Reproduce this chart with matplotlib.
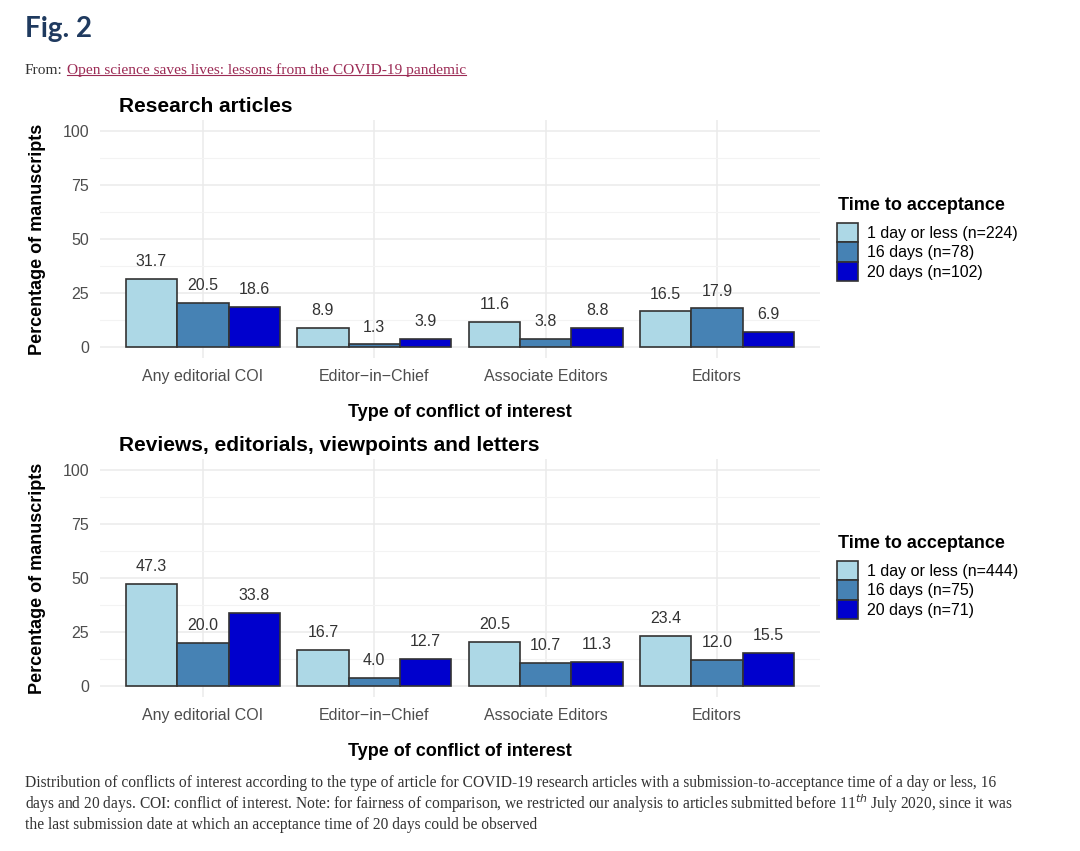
import numpy as np
import matplotlib.pyplot as plt
from matplotlib.patches import Patch

# ----------------------------------------
# DATA
# ----------------------------------------
categories = ["Any editorial COI", "Editor\u2212in\u2212Chief", "Associate Editors", "Editors"]

research_1day = [31.7, 8.9, 11.6, 16.5]
research_16days = [20.5, 1.3, 3.8, 17.9]
research_20days = [18.6, 3.9, 8.8, 6.9]
research_labels = ["1 day or less (n=224)", "16 days (n=78)", "20 days (n=102)"]

reviews_1day = [47.3, 16.7, 20.5, 23.4]
reviews_16days = [20.0, 4.0, 10.7, 12.0]
reviews_20days = [33.8, 12.7, 11.3, 15.5]
reviews_labels = ["1 day or less (n=444)", "16 days (n=75)", "20 days (n=71)"]

y_ticks = [0, 25, 50, 75, 100]

COLORS = ["#add8e6", "#4682b4", "#0000cd"]
EDGE = "#333333"
SANS = "Liberation Sans"
SERIF = "Liberation Serif"

plt.rcParams["font.family"] = SANS

W, H = 1080, 851
fig = plt.figure(figsize=(W / 100, H / 100), dpi=100)


def panel(top_px, title, series, labels, legend_top_px):
    ax = fig.add_axes([100 / W, 1 - (top_px + 238) / H, 720 / W, 238 / H])
    x = np.arange(1, len(categories) + 1)
    w = 0.3
    for i, vals in enumerate(series):
        xs = x + (i - 1) * w
        ax.bar(xs, vals, width=w, color=COLORS[i], edgecolor=EDGE, linewidth=1.2, zorder=3)
        for xi, v in zip(xs, vals):
            ax.annotate(f"{v:.1f}", (xi, v), xytext=(0, 12.5), textcoords="offset points",
                        ha="center", va="center", fontsize=11.5, color="#333333", zorder=4)
    ax.set_xlim(0.4, 4.6)
    ax.set_ylim(-5, 105)
    ax.set_xticks(x)
    ax.set_xticklabels(categories, fontsize=11.5, color="#4d4d4d")
    ax.set_yticks(y_ticks)
    ax.set_yticklabels([str(t) for t in y_ticks], fontsize=11.5, color="#4d4d4d")
    ax.set_yticks([12.5, 37.5, 62.5, 87.5], minor=True)
    ax.grid(True, which="major", color="#ebebeb", linewidth=1.1, zorder=0)
    ax.grid(True, which="minor", axis="y", color="#f3f3f3", linewidth=0.8, zorder=0)
    ax.tick_params(length=0, pad=8)
    ax.tick_params(which="minor", length=0)
    for s in ax.spines.values():
        s.set_visible(False)
    ax.set_ylabel("Percentage of manuscripts", fontsize=13, fontweight="bold", labelpad=12)
    ax.set_xlabel("Type of conflict of interest", fontsize=13, fontweight="bold", labelpad=14)
    ax.set_title(title, fontsize=15, fontweight="bold", loc="left", x=0.027, pad=6)

    # legend title as separate text so the gap matches
    fig.text(838 / W, 1 - (legend_top_px - 18) / H, "Time to acceptance", fontsize=13,
             fontweight="bold", va="center", ha="left")
    handles = [Patch(facecolor=c, edgecolor=EDGE, linewidth=1.2) for c in COLORS]
    ax.legend(handles, labels, loc="upper left",
              bbox_to_anchor=(837 / W, 1 - legend_top_px / H), bbox_transform=fig.transFigure,
              frameon=False, fontsize=11.5,
              handlelength=1.3, handleheight=1.5, handletextpad=0.55,
              labelspacing=0.0, borderpad=0, borderaxespad=0)
    return ax


panel(120, "Research articles",
      [research_1day, research_16days, research_20days], research_labels, 223)
panel(459, "Reviews, editorials, viewpoints and letters",
      [reviews_1day, reviews_16days, reviews_20days], reviews_labels, 561)

# ----------------------------------------
# HEADER AND CAPTION
# ----------------------------------------
fig.text(25 / W, 1 - 29 / H, "Fig. 2", fontsize=20, fontweight="bold",
         color="#1f3a5f", va="center", family="Lato")
frm = fig.text(25 / W, 1 - 70 / H, "From:", fontsize=11.1, family=SERIF, color="#333333", va="center")
fig.canvas.draw()
fb = frm.get_window_extent()
link = fig.text((fb.x1 + 4) / W, 1 - 70 / H, "Open science saves lives: lessons from the COVID-19 pandemic",
                fontsize=11.1, family=SERIF, color="#9c2b55", va="center")
fig.canvas.draw()
bb = link.get_window_extent()
fig.add_artist(plt.Line2D([bb.x0 / W, bb.x1 / W], [(bb.y0 + 2) / H] * 2,
                          color="#9c2b55", linewidth=0.8))

caption = [
    "Distribution of conflicts of interest according to the type of article for COVID-19 research articles with a submission-to-acceptance time of a day or less, 16",
    "days and 20 days. COI: conflict of interest. Note: for fairness of comparison, we restricted our analysis to articles submitted before 11$^{th}$ July 2020, since it was",
    "the last submission date at which an acceptance time of 20 days could be observed",
]
for i, line in enumerate(caption):
    fig.text(25 / W, 1 - (783 + 21 * i) / H, line, fontsize=11.2, family=SERIF,
             color="#333333", va="center")

fig.savefig("out.png", dpi=100)
